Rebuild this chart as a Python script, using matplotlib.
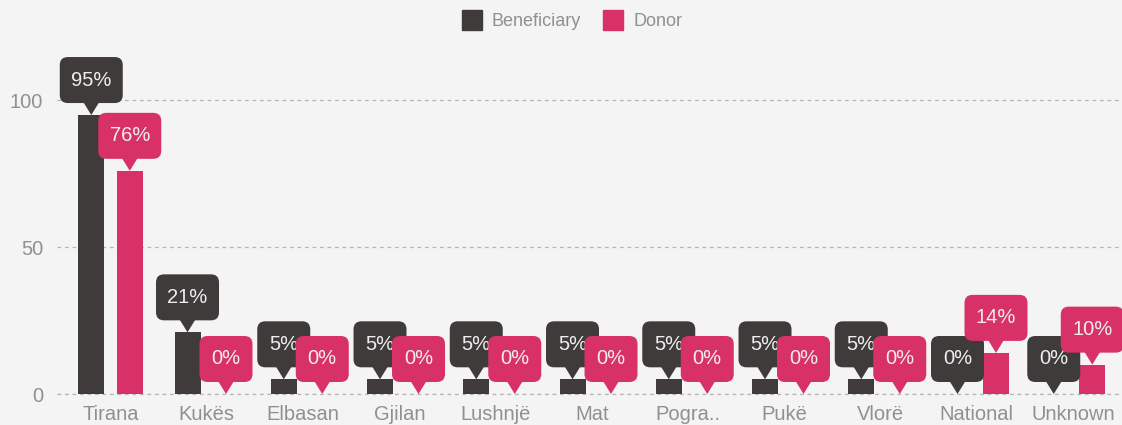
import matplotlib.pyplot as plt
import matplotlib.transforms as mtransforms
import numpy as np
from matplotlib.lines import Line2D
from matplotlib.patches import FancyBboxPatch, Polygon

categories = ["Tirana", "Kukës", "Elbasan", "Gjilan", "Lushnjë", "Mat",
              "Pogra..", "Pukë", "Vlorë", "National", "Unknown"]
beneficiary = [95, 21, 5, 5, 5, 5, 5, 5, 5, 0, 0]
donor = [76, 0, 0, 0, 0, 0, 0, 0, 0, 14, 10]

DARK = "#3f3b3b"
PINK = "#d83167"
BG = "#f4f4f4"
GREY = "#909090"

plt.rcParams["font.family"] = ["Liberation Sans", "DejaVu Sans"]


def callout(ax, x, y, text, color, z):
    # speech-bubble label in pixel units, anchored at the top of a bar
    trans = mtransforms.Affine2D() + mtransforms.ScaledTranslation(x, y, ax.transData)
    w = 33 + 10 * len(text)
    h, lift, tip = 46, 12, 8
    box = FancyBboxPatch((-w / 2, lift), w, h, boxstyle="round,pad=0,rounding_size=8",
                         facecolor=color, edgecolor="none", transform=trans,
                         clip_on=False, zorder=z)
    arrow = Polygon([(-tip, lift + 1), (tip, lift + 1), (0, 0)], closed=True,
                    facecolor=color, edgecolor="none", transform=trans,
                    clip_on=False, zorder=z)
    ax.add_patch(box)
    ax.add_patch(arrow)
    ax.text(0, lift + h / 2, text, transform=trans, ha="center", va="center",
            color="#eeeeee", fontsize=14.5, zorder=z + 0.1, clip_on=False)


fig = plt.figure(figsize=(11.22, 4.25), dpi=100, facecolor=BG)
ax = fig.add_axes([57 / 1122, 31 / 425, 1065 / 1122, 323 / 425], facecolor=BG)

x = np.arange(len(categories))
width = 0.27
off = 0.2
ax.bar(x - off, beneficiary, width, color=DARK, zorder=2)
ax.bar(x + off, donor, width, color=PINK, zorder=2)

for i in range(len(categories)):
    callout(ax, x[i] - off, beneficiary[i], f"{beneficiary[i]}%", DARK, 4 + i * 0.5)
    callout(ax, x[i] + off, donor[i], f"{donor[i]}%", PINK, 4.2 + i * 0.5)

ax.set_xlim(-0.556, 10.509)
ax.set_ylim(0, 110)
ax.set_yticks([0, 50, 100])
ax.set_xticks(x)
ax.set_xticklabels(categories)
grid_style = dict(color="#b5b5b5", linestyle=(0, (3, 3)), linewidth=0.9)
ax.grid(True, axis="y", zorder=0, **grid_style)
ax.axhline(0, zorder=1, clip_on=False, **grid_style)
ax.tick_params(axis="both", length=0, colors=GREY, labelsize=14.5)
ax.tick_params(axis="y", pad=10)
ax.tick_params(axis="x", pad=8)
for s in ax.spines.values():
    s.set_visible(False)

handles = [
    Line2D([], [], marker="s", linestyle="none", markersize=14, color=DARK, label="Beneficiary"),
    Line2D([], [], marker="s", linestyle="none", markersize=14, color=PINK, label="Donor"),
]
fig.legend(handles=handles, loc="center", bbox_to_anchor=(568 / 1122, 1 - 22 / 425), ncol=2,
           frameon=False, fontsize=13, labelcolor=GREY, handletextpad=0.1, columnspacing=0.8)

fig.savefig("out.png", dpi=100, facecolor=BG)
